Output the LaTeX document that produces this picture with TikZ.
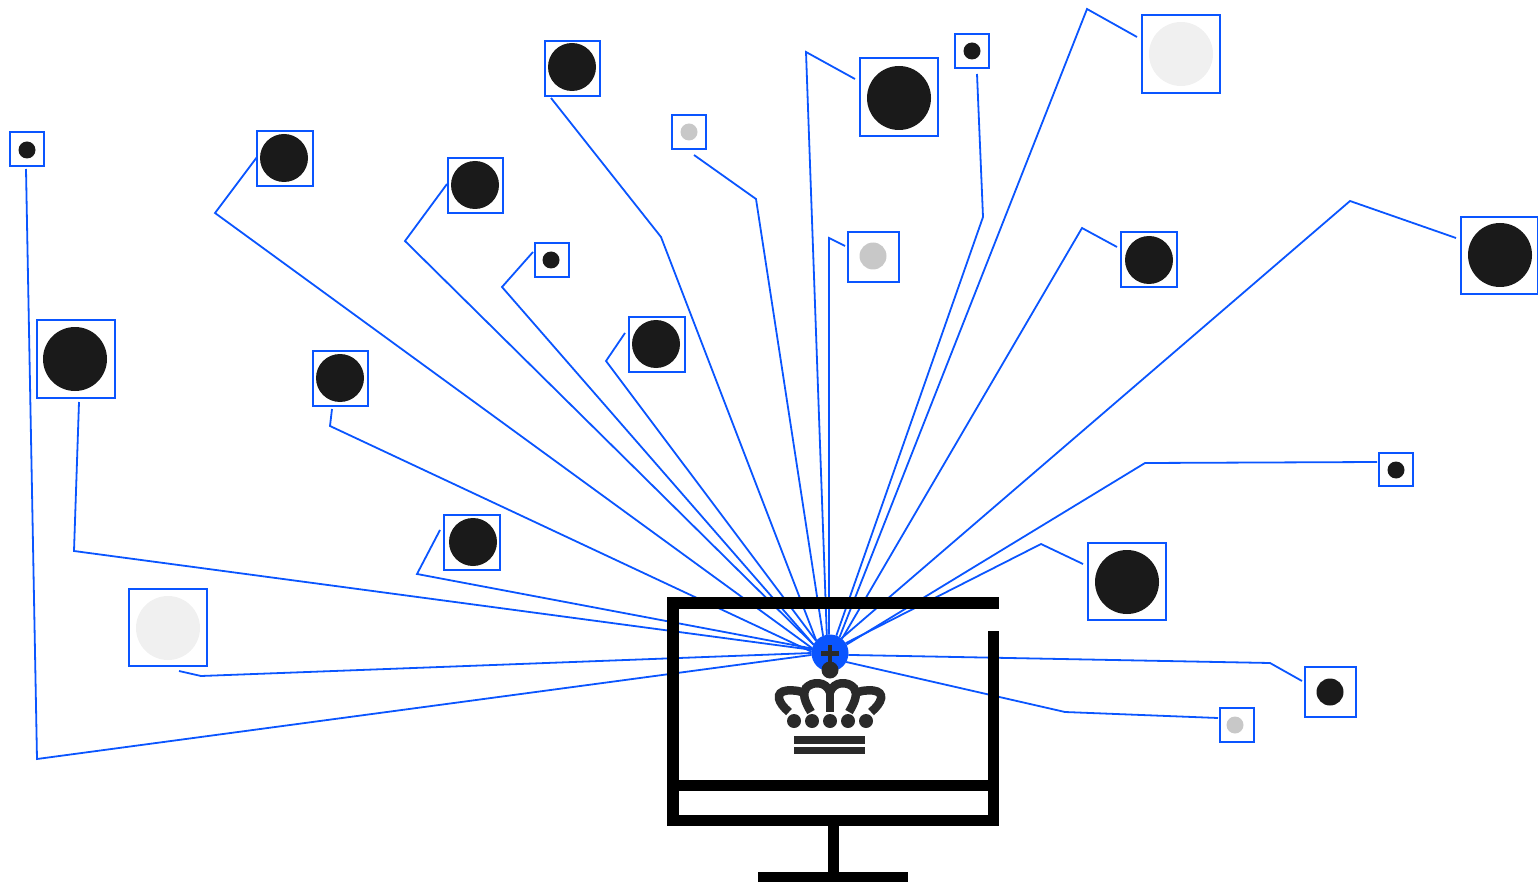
\documentclass[tikz,border=0pt]{standalone}
\definecolor{linkblue}{HTML}{0A55FF}
\definecolor{inkdark}{HTML}{1A1A1A}
\definecolor{crownink}{HTML}{2A2A2A}
\definecolor{midgray}{HTML}{C8C8C8}
\definecolor{palegray}{HTML}{F0F0F0}
\tikzset{
  boxnode/.style={draw=linkblue,line width=1.3pt,rectangle,inner sep=0pt,outer sep=0pt},
  dotnode/.style={circle,inner sep=0pt,outer sep=0pt,draw=none},
  link/.style={draw=linkblue,line width=1.8pt,line join=miter},
  hubnode/.style={circle,fill=linkblue,inner sep=0pt,outer sep=0pt,minimum size=37pt},
  barpart/.style={fill=black,draw=none},
  crownline/.style={draw=crownink,line width=8.5pt,line cap=butt},
  crownfill/.style={fill=crownink,draw=none}
}
\begin{document}
\begin{tikzpicture}[x=1pt,y=-1pt]
\useasboundingbox (0,0) rectangle (1538,882);
\node[hubnode] (hub) at (830,653) {};
\foreach \n/\xa/\ya/\xb/\yb/\cx/\cy/\r/\col/\sx/\sy/\kx/\ky/\ang in {
 1/10/132/44/166/27/150/17/inkdark/26/169/37/759/186,
 2/257/131/313/186/284/158/48/inkdark/257/157/215/213/165,
 3/448/158/503/213/475/185/48/inkdark/447/184/405/241/153,
 4/545/41/600/96/572/67/48/inkdark/551/98/661/237/138,
 5/672/115/706/149/689/132/17/midgray/694/155/756/199/112,
 6/860/58/938/136/899/98/64/inkdark/855/79/806/52/100,
 7/955/34/989/68/972/51/17/inkdark/977/74/983/217/70,
 8/1142/15/1220/93/1181/54/64/palegray/1137/37/1087/9/59,
 9/535/243/569/277/551/260/17/inkdark/533/252/502/287/153,
 10/629/317/685/372/656/344/48/inkdark/625/333/606/361/139,
 11/848/232/899/282/873/256/27/midgray/845/246/829/238/93,
 12/1121/232/1177/287/1149/260/48/inkdark/1117/247/1082/228/50,
 13/1461/217/1538/294/1500/255/64/inkdark/1456/238/1350/201/52,
 14/1379/453/1413/486/1396/470/17/inkdark/1377/462/1145/463/27,
 15/1088/543/1166/620/1127/582/64/inkdark/1083/564/1041/544/32,
 16/1305/667/1356/717/1330/692/27/inkdark/1302/681/1270/663/-6,
 17/1220/708/1254/742/1235/725/17/midgray/1218/718/1065/712/-29,
 18/129/589/207/666/168/628/64/palegray/179/671/201/676/180,
 19/444/515/500/570/473/542/48/inkdark/440/530/417/574/166,
 20/313/351/368/406/340/378/48/inkdark/332/409/330/426/176,
 21/37/320/115/398/75/359/64/inkdark/79/402/74/551/170}{
  \node[boxnode,minimum width={(\xb-\xa)*1pt},minimum height={(\yb-\ya)*1pt}] (b\n) at ({(\xa+\xb)/2},{(\ya+\yb)/2}) {};
  \node[dotnode,fill=\col,minimum size={\r*1pt}] (c\n) at (\cx,\cy) {};
  \coordinate (s\n) at (\sx,\sy);
  \coordinate (k\n) at (\kx,\ky);
  \draw[link] (s\n) -- (k\n) -- (hub.\ang);
}
% monitor
\fill[barpart] (667,597) rectangle (999,608.5);
\fill[barpart] (667,597) rectangle (678.5,826);
\fill[barpart] (988,631) rectangle (999,826);
\fill[barpart] (667,780) rectangle (999,791);
\fill[barpart] (667,815) rectangle (999,826);
\fill[barpart] (827.5,826) rectangle (838.5,872);
\fill[barpart] (758,872) rectangle (908,882);
% crown
\fill[crownfill] (828,645) rectangle (832,665);
\fill[crownfill] (821,651) rectangle (839,655.5);
\fill[crownfill] (830,670) circle (8.5);
\foreach \dx in {794,812,830,848,866}{\fill[crownfill] (\dx,721) circle (7);}
\fill[crownfill] (794,736) rectangle (865,743.5);
\fill[crownfill] (794,747) rectangle (865,754);
\draw[crownline] (789,712) .. controls (778,703) and (774,692) .. (787,690.5) .. controls (795,690) and (800,691) .. (804,693);
\draw[crownline] (871,712) .. controls (882,703) and (886,692) .. (873,690.5) .. controls (865,690) and (860,691) .. (856,693);
\draw[crownline] (811,712) .. controls (805,702) and (802,694) .. (806,688) .. controls (812,681) and (826,681) .. (830,692);
\draw[crownline] (849,712) .. controls (855,702) and (858,694) .. (854,688) .. controls (848,681) and (834,681) .. (830,692);
\draw[crownline] (830,690) -- (830,712);
\end{tikzpicture}
\end{document}
